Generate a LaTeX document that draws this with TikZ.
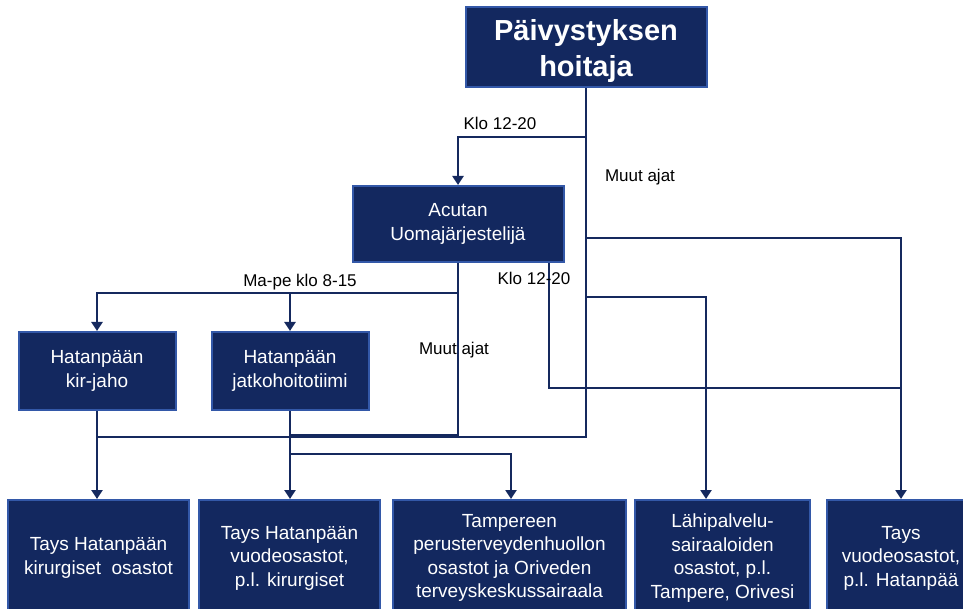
\documentclass[tikz,border=0pt]{standalone}
\usepackage{fontspec}
\setmainfont{Liberation Sans}
\usetikzlibrary{arrows.meta}
\definecolor{navy}{HTML}{13285F}
\definecolor{edgeblue}{HTML}{3358A8}
\definecolor{linecol}{HTML}{15295E}
\tikzset{
 box/.style={draw=edgeblue, line width=2pt, fill=navy, text=white, align=center, inner sep=2pt, font=\fontsize{19}{23.5}\selectfont},
 conn/.style={draw=linecol, line width=2.8pt},
 arr/.style={conn, -{Triangle[length=9pt,width=11pt]}},
 lbl/.style={font=\fontsize{17}{20}\selectfont, text=black, inner sep=0pt}
}
\begin{document}
\begin{tikzpicture}[x=1pt,y=-1pt]
\path[use as bounding box] (0,0) rectangle (963,609);
\clip (0,0) rectangle (963,609);
% boxes
\node[box, minimum width=241pt, minimum height=80pt, font=\fontsize{29}{36}\selectfont\bfseries] (top) at (586,47) {\raisebox{-4pt}[\height][\depth]{\begin{tabular}{@{}c@{}}Päivystyksen\\hoitaja\end{tabular}}};
\node[box, minimum width=211pt, minimum height=76pt] (acutan) at (458,224) {Acutan\\Uomajärjestelijä};
\node[box, minimum width=157pt, minimum height=78pt] (kirjaho) at (97,371) {Hatanpään\\kir-jaho};
\node[box, minimum width=157pt, minimum height=78pt] (jatko) at (290,371) {Hatanpään\\jatkohoitotiimi};
\node[box, minimum width=181pt, minimum height=116pt] (b1) at (98.5,558) {Tays Hatanpään\\kirurgiset\ \ osastot};
\node[box, minimum width=181pt, minimum height=116pt] (b2) at (289.5,558) {Tays Hatanpään\\vuodeosastot,\\p.l. kirurgiset};
\node[box, minimum width=233pt, minimum height=116pt] (b3) at (509.5,558) {Tampereen\\perusterveydenhuollon\\osastot ja Oriveden\\terveyskeskussairaala};
\node[box, minimum width=175pt, minimum height=116pt] (b4) at (722.5,558) {Lähipalvelu-\\sairaaloiden\\osastot, p.l.\\Tampere, Orivesi};
\node[box, minimum width=148pt, minimum height=116pt] (b5) at (901,558) {Tays\\vuodeosastot,\\p.l. Hatanpää};
% helper coordinates
\coordinate (hA) at (0,137);
\coordinate (hB) at (0,238);
\coordinate (hC) at (0,297);
\coordinate (hD) at (0,293);
\coordinate (hE) at (0,437);
\coordinate (hF) at (0,435);
\coordinate (hG) at (0,454);
\coordinate (hH) at (0,388);
\coordinate (vA) at (549,0);
\coordinate (vB) at (706,0);
\coordinate (vC) at (511,0);
% connectors
\draw[conn] (top.south) -- (top.south |- hE) -- (kirjaho.south |- hE);
\draw[arr] (top.south |- hA) -| (acutan.north);
\draw[arr] (top.south |- hB) -| (b5.north);
\draw[arr] (top.south |- hC) -| (b4.north -| vB);
\draw[conn] (acutan.south) -- (acutan.south |- hF) -- (jatko.south |- hF);
\draw[arr] (acutan.south |- hD) -| (kirjaho.north);
\draw[arr] (jatko.north |- hD) -- (jatko.north);
\draw[conn] (acutan.south -| vA) |- (b5.north |- hH);
\draw[arr] (kirjaho.south) -- (b1.north -| kirjaho.south);
\draw[arr] (jatko.south) -- (b2.north -| jatko.south);
\draw[arr] (jatko.south |- hG) -| (b3.north -| vC);
% labels
\node[lbl] (l1) at (500,123) {Klo 12-20};
\node[lbl] (l2) at (640,177) {Muut ajat};
\node[lbl] (l3) at (300,282) {Ma-pe klo 8-15};
\node[lbl] (l4) at (534,278) {Klo 12-20};
\node[lbl] (l5) at (454,350) {Muut ajat};
\end{tikzpicture}
\end{document}
